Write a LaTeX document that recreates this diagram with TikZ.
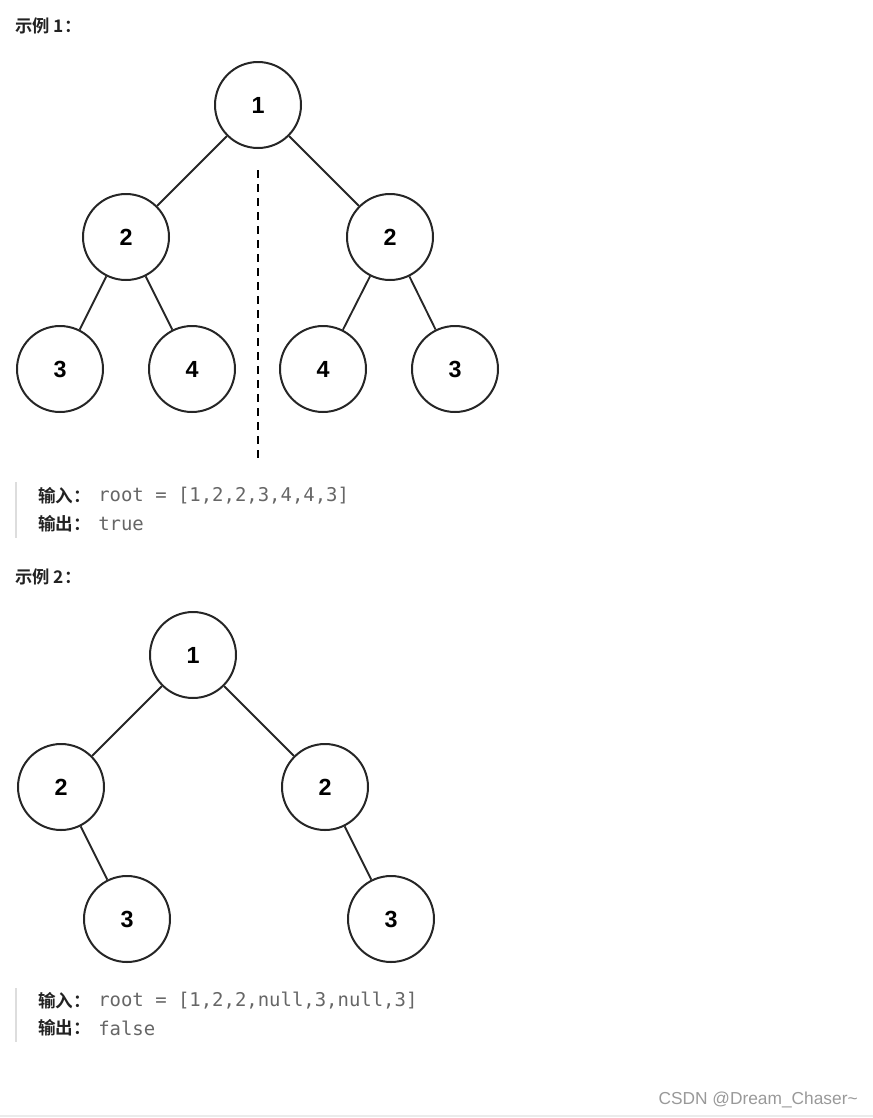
\documentclass[tikz,border=0pt]{standalone}
\usepackage{fontspec}
\setmainfont{Liberation Sans}
\newfontfamily\cjk{Noto Sans CJK SC}[BoldFont={Noto Sans CJK SC Bold}]
\newfontfamily\codefont{DejaVu Sans Mono}
\usetikzlibrary{positioning}
\definecolor{inkgray}{HTML}{222222}
\definecolor{codegray}{HTML}{666666}
\definecolor{bargray}{HTML}{DDDDDD}
\definecolor{markgray}{HTML}{999999}
\tikzset{
  treenode/.style={
    circle,
    draw=black!85,
    line width=1.5pt,
    minimum size=64.5pt,
    inner sep=0pt,
    font=\bfseries\fontsize{17.5}{18}\selectfont
  },
  edge/.style={line width=1.4pt, draw=black!85},
  divider/.style={line width=1.8pt, dash pattern=on 6pt off 4.5pt},
  heading/.style={anchor=west, inner sep=0pt, text=inkgray, font=\cjk\bfseries\fontsize{13}{13}\selectfont},
  iolabel/.style={anchor=west, inner sep=0pt, text=inkgray, font=\cjk\bfseries\fontsize{13.2}{13}\selectfont},
  iovalue/.style={anchor=west, inner sep=0pt, text=codegray, font=\codefont\fontsize{14.2}{14}\selectfont},
  quotebar/.style={draw=bargray, line width=1.6pt}
}
\newcommand{\quotebar}[2]{\draw[quotebar] (16,#1) -- (16,#2);}

\begin{document}
\begin{tikzpicture}[x=0.75pt, y=-0.75pt]
  \useasboundingbox (0,0) rectangle (873,1118);
  % example 1
  \node[heading] (h1) at (15,26) {示例 1：};
  \node[treenode] (a1) at (258,105) {1};
  \node[treenode] (a2) at (126,237) {2};
  \node[treenode] (a3) at (390,237) {2};
  \node[treenode] (a4) at (60,369)  {3};
  \node[treenode] (a5) at (192,369) {4};
  \node[treenode] (a6) at (323,369) {4};
  \node[treenode] (a7) at (455,369) {3};
  \draw[edge] (a1) -- (a2);
  \draw[edge] (a1) -- (a3);
  \draw[edge] (a2) -- (a4);
  \draw[edge] (a2) -- (a5);
  \draw[edge] (a3) -- (a6);
  \draw[edge] (a3) -- (a7);
  \coordinate (mtop) at (258,170);
  \coordinate (mbot) at (258,459);
  \draw[divider] (mtop) -- (mbot);
  \quotebar{482}{538}
  \node[iolabel] (in1) at (38,496) {输入：};
  \node[iovalue] (in1v) at (98,496) {root = [1,2,2,3,4,4,3]};
  \node[iolabel] (out1) at (38,524) {输出：};
  \node[iovalue] (out1v) at (98,524) {true};
  % example 2
  \node[heading] (h2) at (15,577) {示例 2：};
  \node[treenode] (b1) at (193,655) {1};
  \node[treenode] (b2) at (61,787)  {2};
  \node[treenode] (b3) at (325,787) {2};
  \node[treenode] (b4) at (127,919) {3};
  \node[treenode] (b5) at (391,919) {3};
  \draw[edge] (b1) -- (b2);
  \draw[edge] (b1) -- (b3);
  \draw[edge] (b2) -- (b4);
  \draw[edge] (b3) -- (b5);
  \quotebar{988}{1042}
  \node[iolabel] (in2) at (38,1001) {输入：};
  \node[iovalue] (in2v) at (98,1001) {root = [1,2,2,null,3,null,3]};
  \node[iolabel] (out2) at (38,1028) {输出：};
  \node[iovalue] (out2v) at (98,1028) {false};
  % watermark
  \node[anchor=east, inner sep=0pt, text=markgray, font=\fontsize{13}{13}\selectfont] (mark) at (858,1100) {CSDN @Dream\_Chaser\textasciitilde};
  \draw[bargray!60, line width=0.8pt] (0,1116) -- (873,1116);
\end{tikzpicture}
\end{document}
